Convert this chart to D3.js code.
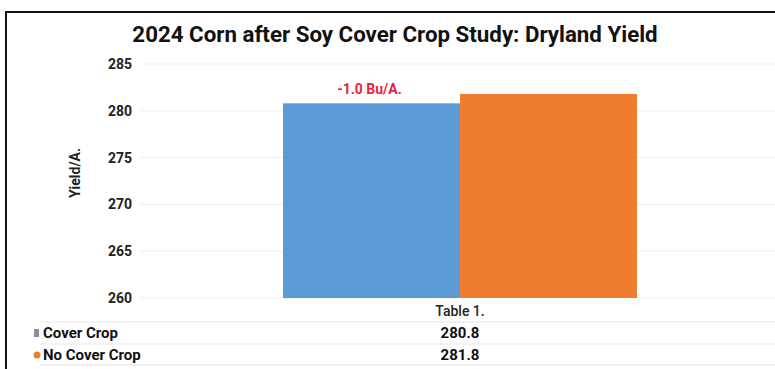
<!DOCTYPE html>
<html>
<head>
<meta charset="utf-8">
<script src="https://cdn.jsdelivr.net/npm/d3@7"></script>
<style>
  body { margin: 0; background: #fff; }
  svg text { font-family: Roboto, "Liberation Sans", sans-serif; }
</style>
</head>
<body>
<div id="chart"></div>
<script>
// data
const categories = ["Cover Crop", "No Cover Crop"];
const yields = [280.8, 281.8];
const yTicks = [260, 265, 270, 275, 280, 285];
const barColors = ["#5b9bd6", "#ee7d30"];
const markerColors = ["#8a8f96", "#ee7d30"];
const diffLabel = "-1.0 Bu/A.";

const width = 775
const height = 369

const svg = d3.select("#chart")
  .append("svg")
  .attr("width", width)
  .attr("height", height);

// frame (only top and left edges are visible)
svg.append("path")
  .attr("d", `M6,${height} V12 H${width}`)
  .attr("fill", "none")
  .attr("stroke", "#111")
  .attr("stroke-width", 2);

// scales
const y = d3.scaleLinear()
  .domain([260, 285])
  .range([298, 64]);

const x = d3.scaleBand()
  .domain(categories)
  .range([283, 637])
  .paddingInner(0);

// faint gridlines
svg.append("g")
  .selectAll("line")
  .data(yTicks)
  .join("line")
  .attr("x1", 140)
  .attr("x2", width)
  .attr("y1", d => y(d))
  .attr("y2", d => y(d))
  .attr("stroke", "#efefef")
  .attr("stroke-width", 1);

// y axis (labels only)
const yAxis = d3.axisLeft(y)
  .tickValues(yTicks)
  .tickSize(0)
  .tickPadding(0);

const gy = svg.append("g")
  .attr("transform", "translate(132,0)")
  .call(yAxis);
gy.select(".domain").remove();
gy.selectAll("text")
  .style("font-size", "14px")
  .style("font-weight", "bold")
  .attr("fill", "#222");

// axis title
svg.append("text")
  .attr("transform", "translate(80,173) rotate(-90)")
  .attr("text-anchor", "middle")
  .style("font-size", "14px")
  .style("font-weight", "bold")
  .attr("fill", "#222")
  .text("Yield/A.");

// bars
svg.append("g")
  .selectAll("rect")
  .data(categories)
  .join("rect")
  .attr("x", d => x(d))
  .attr("y", (d, i) => y(yields[i]))
  .attr("width", x.bandwidth())
  .attr("height", (d, i) => y(260) - y(yields[i]))
  .attr("fill", (d, i) => barColors[i]);

// difference annotation
svg.append("text")
  .attr("x", x(categories[0]) + x.bandwidth() / 2 - 2)
  .attr("y", y(yields[0]) - 9)
  .attr("text-anchor", "middle")
  .style("font-size", "14px")
  .style("font-weight", "bold")
  .attr("fill", "#ee1f3d")
  .text(diffLabel);

// title
svg.append("text")
  .attr("x", 395)
  .attr("y", 42)
  .attr("text-anchor", "middle")
  .style("font-size", "22.3px")
  .style("font-weight", "bold")
  .attr("fill", "#111")
  .text("2024 Corn after Soy Cover Crop Study: Dryland Yield");

// data table
const tableX = x(categories[1]);
svg.append("text")
  .attr("x", tableX)
  .attr("y", 316)
  .attr("text-anchor", "middle")
  .style("font-size", "14px")
  .style("font-weight", "500")
  .attr("fill", "#222")
  .text("Table 1.");

const rowY = [333, 355];

svg.append("g")
  .selectAll("line")
  .data([322, 344, 365])
  .join("line")
  .attr("x1", 40)
  .attr("x2", width)
  .attr("y1", d => d)
  .attr("y2", d => d)
  .attr("stroke", "#e6e6e6")
  .attr("stroke-width", 1);

const rows = svg.append("g")
  .selectAll("g")
  .data(categories)
  .join("g")
  .attr("transform", (d, i) => `translate(0,${rowY[i]})`);

rows.filter((d, i) => i === 0)
  .append("rect")
  .attr("x", 34)
  .attr("y", -4)
  .attr("width", 5)
  .attr("height", 8)
  .attr("fill", markerColors[0]);

rows.filter((d, i) => i === 1)
  .append("circle")
  .attr("cx", 37)
  .attr("cy", 0)
  .attr("r", 3.5)
  .attr("fill", markerColors[1]);

rows.append("text")
  .attr("x", 43)
  .attr("dy", "0.35em")
  .style("font-size", "15px")
  .style("font-weight", "bold")
  .attr("fill", "#111")
  .text(d => d);

rows.append("text")
  .attr("x", tableX)
  .attr("dy", "0.35em")
  .attr("text-anchor", "middle")
  .style("font-size", "15px")
  .style("font-weight", "bold")
  .attr("fill", "#111")
  .text((d, i) => d3.format(".1f")(yields[i]));
</script>
</body>
</html>
